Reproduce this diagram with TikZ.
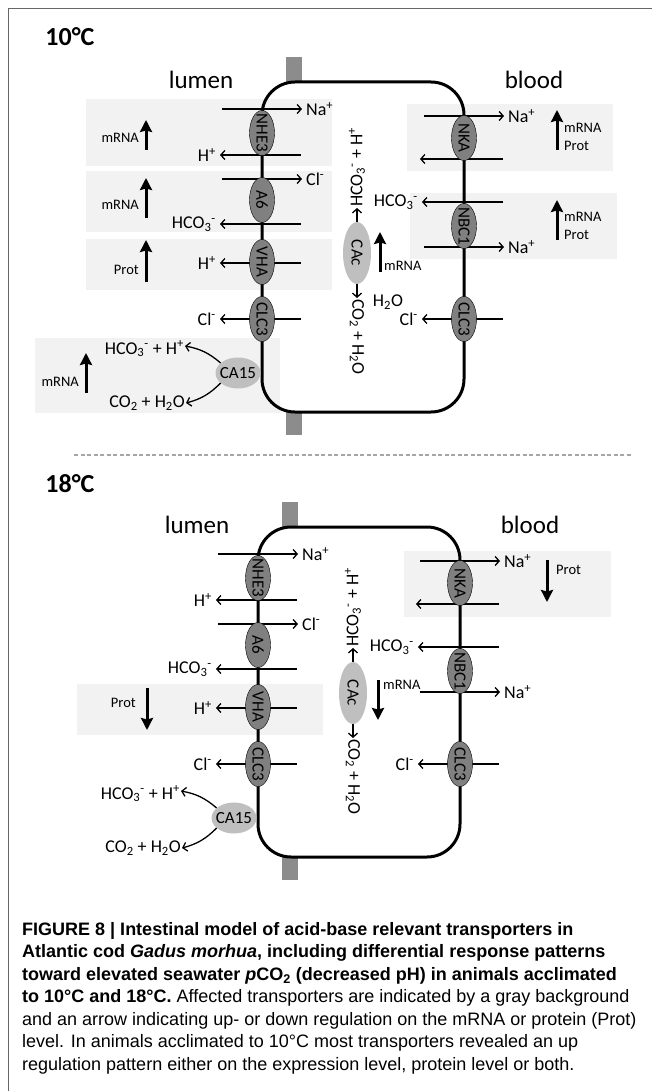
\documentclass[tikz,border=0pt]{standalone}
\usepackage{fontspec}
\setmainfont{Carlito}
\newfontfamily\capfont{Liberation Sans}
\usetikzlibrary{arrows.meta,shapes.geometric}

% one epithelial cell with its transporters, #1 = height of CAc
\newcommand{\cellpanel}[1]{%
  \node[side] (lumen) at (201,80) {lumen};
  \node[side] (blood) at (534,80) {blood};
  \fill[bar] (286,57) rectangle (302,82);
  \fill[bar] (286,412) rectangle (302,435);
  \draw[membrane] (262,82) rectangle (464,412);
  % fluxes to the right
  \foreach \nm/\x/\y/\lab in {na1/262/109/{Na\textsuperscript{+}},
      cl1/262/179/{Cl\textsuperscript{-}}, na2/464/116/{Na\textsuperscript{+}},
      na3/464/247/{Na\textsuperscript{+}}}{
    \coordinate (\nm-s) at ({\x-40},\y);
    \node[ion, anchor=west] (\nm) at ({\x+40},\y) {\lab};
    \draw[flux] (\nm-s) -- (\nm);
  }
  % fluxes to the left
  \foreach \nm/\x/\y/\lab in {h1/262/155/{H\textsuperscript{+}},
      hc1/262/224/{HCO\textsubscript{3}\textsuperscript{-}}, h2/262/263/{H\textsuperscript{+}},
      cl2/262/319/{Cl\textsuperscript{-}}, hc2/464/202/{HCO\textsubscript{3}\textsuperscript{-}},
      cl3/464/319/{Cl\textsuperscript{-}}}{
    \coordinate (\nm-s) at ({\x+39},\y);
    \node[ion, anchor=east] (\nm) at ({\x-42},\y) {\lab};
    \draw[flux] (\nm-s) -- (\nm);
  }
  \coordinate (k1) at (503,159);
  \coordinate (k2) at (420,159);
  \draw[flux] (k1) -- (k2);
  % transporters
  \foreach \nm/\x/\y/\lab in {nhe/262/133/NHE3, a6/262/200/A6, vha/262/262/VHA,
      clc/262/319/CLC3, nka/464/138/NKA, nbc/464/226/NBC1, clcb/464/319/CLC3}
    \node[tp] (\nm) at (\x,\y) {\makebox[0pt]{\lab}};
  % carbonic anhydrases
  \node[ca] (ca15) at (238,373) {\makebox[0pt]{CA15}};
  \node[ion, anchor=east, inner xsep=1pt] (hco) at (185,349)
    {HCO\textsubscript{3}\textsuperscript{-} + H\textsuperscript{+}};
  \node[ion, anchor=east, inner xsep=1pt] (co) at (186,403)
    {CO\textsubscript{2} + H\textsubscript{2}O};
  \draw[flux] (ca15.150) to[bend right=15] ([yshift=3pt]hco.east);
  \draw[flux] (ca15.210) to[bend left=15] (co.east);
  \node[ca, rotate=-90, minimum width=62pt, minimum height=28pt] (cac) at (357,#1) {CAc};
  \node[ion, rotate=90, anchor=west, inner sep=1pt] (hcov) at (357,{#1-45})
    {HCO\textsubscript{3}\textsuperscript{-} + H\textsuperscript{+}};
  \node[ion, rotate=-90, anchor=west, inner sep=1pt] (cov) at (357,{#1+45})
    {CO\textsubscript{2} + H\textsubscript{2}O};
  \draw[flux] (cac.west) -- (hcov);
  \draw[flux] (cac.east) -- (cov);
}

\begin{document}
\begin{tikzpicture}[x=1pt, y=-1pt,
  font=\fontsize{18}{20}\selectfont,
  graybg/.style={fill=black!5},
  bar/.style={fill=black!45},
  membrane/.style={line width=3pt, rounded corners=33pt},
  tp/.style={ellipse, draw, thin, fill=black!50, rotate=-90, inner sep=0pt,
             minimum width=45pt, minimum height=25pt, font=\fontsize{17}{17}\selectfont},
  ca/.style={ellipse, fill=black!25, inner sep=0pt, minimum width=45pt,
             minimum height=31pt, font=\fontsize{17}{17}\selectfont},
  ion/.style={inner xsep=4pt, inner ysep=1pt},
  flux/.style={line width=1.3pt, -{Straight Barb[length=4pt,width=9pt]}},
  reg/.style={line width=3pt, -{Stealth[length=12pt,width=12pt,inset=1.5pt]}},
  small/.style={font=\fontsize{14.5}{18}\selectfont, inner sep=1pt},
  side/.style={font=\fontsize{25}{25}\selectfont},
  temp/.style={font=\bfseries\fontsize{26}{26}\selectfont}]
\useasboundingbox (0,0) rectangle (652,1091);
\draw[black!60] (8,1091) -- (8,8) -- (652,8);

% 10 degrees
\node[temp] (t10) at (70,37) {10°C};
\begin{scope}[name prefix=a-]
  \fill[graybg] (86,99) rectangle (332,166);
  \fill[graybg] (86,171) rectangle (332,232);
  \fill[graybg] (86,239) rectangle (332,290);
  \fill[graybg] (35,338) rectangle (280,413);
  \fill[graybg] (407,104) rectangle (613,171);
  \fill[graybg] (410,193) rectangle (617,259);
  \cellpanel{253}
  \node[ion] (h2o) at (388,302) {H\textsubscript{2}O};
  \draw[reg] (146,150) -- (146,120);
  \node[small, anchor=east] (m1) at (140,138) {mRNA};
  \draw[reg] (146,218) -- (146,178);
  \node[small, anchor=east] (m2) at (140,205) {mRNA};
  \draw[reg] (146,282) -- (146,240);
  \node[small, anchor=east] (p3) at (140,270) {Prot};
  \draw[reg] (86,393) -- (86,353);
  \node[small, anchor=east] (m4) at (80,382) {mRNA};
  \draw[reg] (557,150) -- (557,110);
  \node[small, anchor=west, align=left] (mp5) at (563,137) {mRNA\\Prot};
  \draw[reg] (557,240) -- (557,200);
  \node[small, anchor=west, align=left] (mp6) at (563,226) {mRNA\\Prot};
  \draw[reg] (380,272) -- (380,232);
  \node[small, anchor=west] (m7) at (383,266) {mRNA};
\end{scope}

\draw[black!35, line width=1.5pt, dash pattern=on 4pt off 2.5pt] (74,455) -- (632,455);

% 18 degrees
\node[temp] (t18) at (70,484) {18°C};
\begin{scope}[shift={(-4,445)}, name prefix=b-]
  \fill[graybg] (81,239) rectangle (327,290);
  \fill[graybg] (408,106) rectangle (615,172);
  \cellpanel{248}
  \draw[reg] (151,243) -- (151,285);
  \node[small, anchor=east] (p1) at (141,258) {Prot};
  \draw[reg] (551,115) -- (551,157);
  \node[small, anchor=west] (p2) at (559,125) {Prot};
  \draw[reg] (382,235) -- (382,275);
  \node[small, anchor=west] (m3) at (386,240) {mRNA};
\end{scope}

\node[anchor=north west, align=left, inner sep=0pt,
      font=\capfont\fontsize{18}{22.5}\selectfont] (caption) at (22,922)
  {{\bfseries FIGURE 8 | Intestinal model of acid-base relevant transporters in}\\
   {\bfseries Atlantic cod \textit{Gadus morhua}, including differential response patterns}\\
   {\bfseries toward elevated seawater \textit{p}CO\textsubscript{2} (decreased pH) in animals acclimated}\\
   {\bfseries to 10°C and 18°C.} Affected transporters are indicated by a gray background\\
   and an arrow indicating up- or down regulation on the mRNA or protein (Prot)\\
   level. In animals acclimated to 10°C most transporters revealed an up\\
   regulation pattern either on the expression level, protein level or both.};
\end{tikzpicture}
\end{document}
